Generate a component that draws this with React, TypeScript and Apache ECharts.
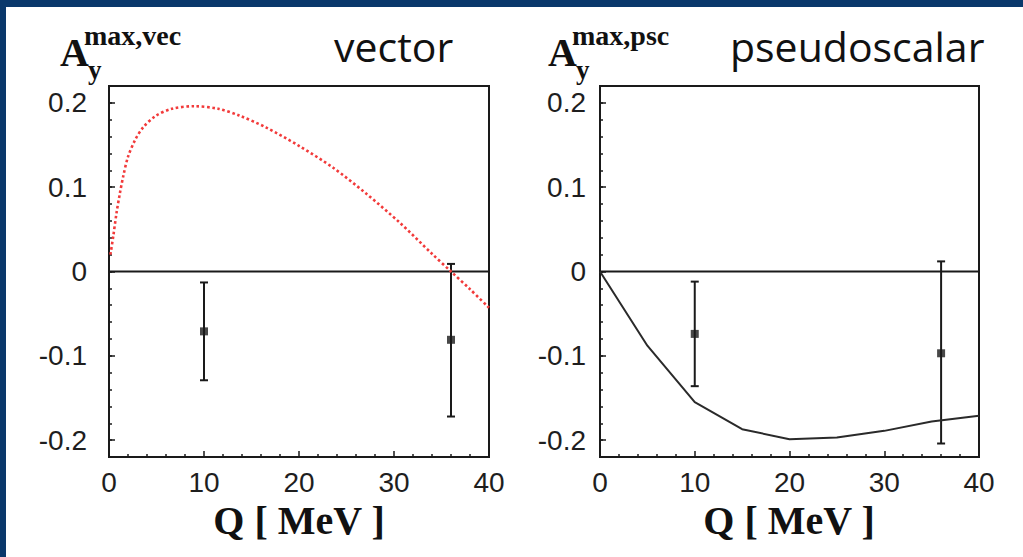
import React, { useEffect, useRef } from "react";
import * as echarts from "echarts";

// ---- data ----
const xTickValues = [0, 10, 20, 30, 40];
const yTickValues = [-0.2, -0.1, 0, 0.1, 0.2];

// vector: red dotted theory curve
const vectorCurve: [number, number][] = [
  [0.15, 0.02], [0.45, 0.042], [0.8, 0.07], [1.15, 0.093], [1.5, 0.113],
  [2.0, 0.136], [2.75, 0.156], [3.6, 0.171], [4.85, 0.184], [6.6, 0.193],
  [9.0, 0.196], [11.5, 0.193], [13.7, 0.185], [16.5, 0.171], [20.0, 0.149],
  [23.6, 0.123], [27.0, 0.093], [30.6, 0.058], [34.0, 0.021],
  [36.0, 0.0], [38.0, -0.021], [40.0, -0.043],
];
// vector: measured points with errors
const vectorQ = [10, 36];
const vectorVal = [-0.071, -0.081];
const vectorLow = [-0.129, -0.172];
const vectorHigh = [-0.013, 0.009];

// pseudoscalar: black theory curve
const pseudoCurve: [number, number][] = [
  [0, 0], [5, -0.088], [10, -0.155], [15, -0.187], [20, -0.199],
  [25, -0.197], [30, -0.189], [35, -0.178], [40, -0.171],
];
const pseudoQ = [10, 36];
const pseudoVal = [-0.074, -0.097];
const pseudoLow = [-0.136, -0.204];
const pseudoHigh = [-0.012, 0.012];

const zeroLine: [number, number][] = [[0, 0], [40, 0]];

const INK = "#1a1a1a";

function App() {
  const ref = useRef<HTMLDivElement>(null);

  useEffect(() => {
    if (!ref.current) return;
    const chart = echarts.init(ref.current, null, { renderer: "svg" });

    const grids = [
      { left: 109, right: 534, top: 86, bottom: 100 },
      { left: 600, right: 44, top: 86, bottom: 100 },
    ].map((g) => ({ ...g, show: true, borderColor: INK, borderWidth: 2, backgroundColor: "transparent" }));

    const xAxes = [0, 1].map((gi) => ({
      type: "value",
      gridIndex: gi,
      position: "bottom",
      min: 0,
      max: 40,
      interval: 10,
      axisLine: { show: true, onZero: false, lineStyle: { color: INK, width: 2 } },
      axisTick: { show: true, inside: true, length: 6, lineStyle: { color: INK, width: 1.5 } },
      minorTick: { show: true, splitNumber: 5, length: 3, lineStyle: { color: INK, width: 1.5 } },
      splitLine: { show: false },
      axisLabel: {
        show: true,
        margin: 11,
        fontFamily: "Liberation Sans, Arial, sans-serif",
        fontSize: 28,
        color: "#1e1e1e",
        customValues: xTickValues,
      },
    }));

    const yAxes: any[] = [];
    [0, 1].forEach((gi) => {
      yAxes.push({
        type: "value",
        gridIndex: gi,
        position: "left",
        min: -0.22,
        max: 0.22,
        axisLine: { show: true, onZero: false, lineStyle: { color: INK, width: 2 } },
        axisTick: { show: true, inside: true, length: 6, customValues: yTickValues, lineStyle: { color: INK, width: 1.5 } },
        splitLine: { show: false },
        axisLabel: {
          show: true,
          margin: gi === 0 ? 22 : 14,
          fontFamily: "Liberation Sans, Arial, sans-serif",
          fontSize: 28,
          color: "#1e1e1e",
          customValues: yTickValues,
          formatter: (v: number) => String(Math.round(v * 10) / 10),
        },
      });
      yAxes.push({
        type: "value",
        gridIndex: gi,
        position: "left",
        min: -0.22,
        max: 0.22,
        interval: 0.02,
        axisLine: { show: false, onZero: false },
        axisTick: { show: true, inside: true, length: 3, lineStyle: { color: INK, width: 1.5 } },
        splitLine: { show: false },
        axisLabel: { show: false },
      });
    });

    const errRender = (params: any, api: any) => {
      const x = api.value(0);
      const lo = api.coord([x, api.value(1)]);
      const hi = api.coord([x, api.value(2)]);
      const st = { stroke: INK, lineWidth: 2 };
      const cap = 4;
      return {
        type: "group",
        children: [
          { type: "line", shape: { x1: lo[0], y1: lo[1], x2: hi[0], y2: hi[1] }, style: st },
          { type: "line", shape: { x1: lo[0] - cap, y1: lo[1], x2: lo[0] + cap, y2: lo[1] }, style: st },
          { type: "line", shape: { x1: hi[0] - cap, y1: hi[1], x2: hi[0] + cap, y2: hi[1] }, style: st },
        ],
      };
    };

    const errData = (q: number[], lo: number[], hi: number[]) => q.map((x, i) => [x, lo[i], hi[i]]);
    const ptData = (q: number[], v: number[]) => q.map((x, i) => [x, v[i]]);

    const series: any[] = [];
    [0, 1].forEach((gi) => {
      series.push({
        type: "line",
        xAxisIndex: gi,
        yAxisIndex: gi * 2,
        data: zeroLine,
        symbol: "none",
        lineStyle: { color: INK, width: 2 },
        silent: true,
      });
    });
    series.push({
      type: "line",
      name: "vector",
      xAxisIndex: 0,
      yAxisIndex: 0,
      data: vectorCurve,
      smooth: 0.3,
      symbol: "none",
      lineStyle: { color: "#f23a3a", width: 2.6, type: [2.6, 2.6] },
    });
    series.push({
      type: "line",
      name: "pseudoscalar",
      xAxisIndex: 1,
      yAxisIndex: 2,
      data: pseudoCurve,
      symbol: "none",
      lineStyle: { color: "#2a2a2a", width: 2 },
    });
    series.push({
      type: "custom",
      xAxisIndex: 0,
      yAxisIndex: 0,
      data: errData(vectorQ, vectorLow, vectorHigh),
      encode: { x: 0, y: [1, 2] },
      renderItem: errRender,
    });
    series.push({
      type: "custom",
      xAxisIndex: 1,
      yAxisIndex: 2,
      data: errData(pseudoQ, pseudoLow, pseudoHigh),
      encode: { x: 0, y: [1, 2] },
      renderItem: errRender,
    });
    series.push({
      type: "scatter",
      xAxisIndex: 0,
      yAxisIndex: 0,
      data: ptData(vectorQ, vectorVal),
      symbol: "rect",
      symbolSize: 8,
      itemStyle: { color: INK },
    });
    series.push({
      type: "scatter",
      xAxisIndex: 1,
      yAxisIndex: 2,
      data: ptData(pseudoQ, pseudoVal),
      symbol: "rect",
      symbolSize: 8,
      itemStyle: { color: INK },
    });

    const serif = "Liberation Serif, Times New Roman, serif";
    const FRAME = "#0a386b";
    const label = (ax: number, supText: string) => [
      { type: "text", x: ax, y: 52, style: { text: "A", font: `bold 40px ${serif}`, fill: "#111", verticalAlign: "middle", align: "left" } },
      { type: "text", x: ax + 24, y: 35, style: { text: supText, font: `bold 28px ${serif}`, fill: "#111", verticalAlign: "middle", align: "left" } },
      { type: "text", x: ax + 28, y: 70, style: { text: "y", font: `bold 27px ${serif}`, fill: "#111", verticalAlign: "middle", align: "left" } },
    ];

    const option: any = {
      animation: false,
      backgroundColor: "#ffffff",
      grid: grids,
      xAxis: xAxes,
      yAxis: yAxes,
      series,
      graphic: [
        { type: "rect", shape: { x: 0, y: 0, width: 1023, height: 7 }, style: { fill: FRAME }, z: 100 },
        { type: "rect", shape: { x: 0, y: 0, width: 6, height: 557 }, style: { fill: FRAME }, z: 100 },
        ...label(60, "max,vec"),
        ...label(548, "max,psc"),
        { type: "text", x: 334, y: 46, style: { text: "vector", font: "41px Open Sans, DejaVu Sans, sans-serif", fill: "#111", verticalAlign: "middle", align: "left" } },
        { type: "text", x: 730, y: 46, style: { text: "pseudoscalar", font: "41px Open Sans, DejaVu Sans, sans-serif", fill: "#111", verticalAlign: "middle", align: "left" } },
        { type: "text", x: 299, y: 520, style: { text: "Q [ MeV ]", font: `bold 40px ${serif}`, fill: "#111", verticalAlign: "middle", align: "center" } },
        { type: "text", x: 789, y: 520, style: { text: "Q [ MeV ]", font: `bold 40px ${serif}`, fill: "#111", verticalAlign: "middle", align: "center" } },
      ],
    };

    chart.setOption(option);
    return () => chart.dispose();
  }, []);

  return (
    <div
      ref={ref}
      style={{ position: "absolute", left: 0, top: 0, width: 1023, height: 557, background: "#fff" }}
    />
  );
}

export default App;
